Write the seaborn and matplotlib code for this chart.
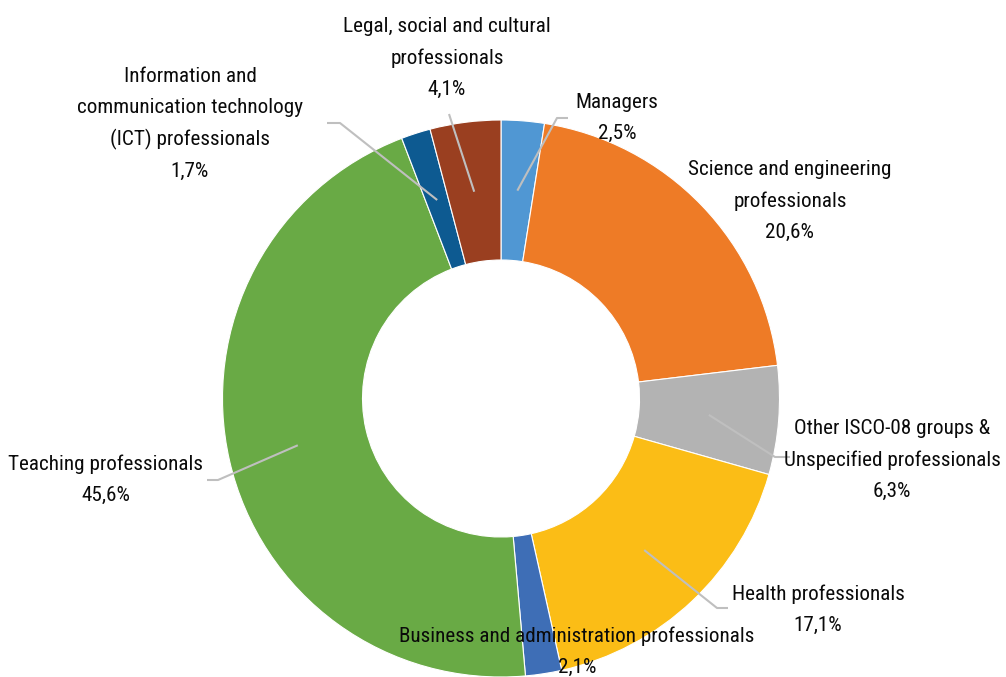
import numpy as np
import matplotlib
matplotlib.use("Agg")
import matplotlib.pyplot as plt
from matplotlib import font_manager
import seaborn as sns

# ---------------- data ----------------
categories = [
    "Managers",
    "Science and engineering\nprofessionals",
    "Other ISCO-08 groups &\nUnspecified professionals",
    "Health professionals",
    "Business and administration professionals",
    "Teaching professionals",
    "Information and\ncommunication technology\n(ICT) professionals",
    "Legal, social and cultural\nprofessionals",
]
shares = [2.5, 20.6, 6.3, 17.1, 2.1, 45.6, 1.7, 4.1]
colors = ["#5097D3", "#EE7B26", "#B3B3B3", "#FBBD16",
          "#3E6EB6", "#69AA45", "#0D5A91", "#9A3F20"]

# ---------------- layout (pixel coordinates, y from top) ----------------
W, H = 1006, 677
CX, CY = 501, 398.5
R_OUT, R_IN = 278.5, 138.5
label_pos = [(617, 118), (790, 201), (892, 460), (818, 610),
             (577, 652), (106, 480), (190, 124), (447, 58)]
# leader elbows / ends (None = no leader line)
leaders = [[(557, 118), (568, 118)], None, [(775, 457), (790, 457)],
           [(717, 608), (728, 608)], None, [(218, 480), (207, 480)],
           [(340, 123), (327, 123)], [(449, 114)]]

sns.set_theme(style="white")

entries = font_manager.fontManager.ttflist
names = {f.name for f in entries}
stretch = "normal"
if "Liberation Sans Narrow" in names:
    fam, fsize = "Liberation Sans Narrow", 15.5
elif "Roboto Condensed" in names:
    fam, fsize = "Roboto Condensed", 15.2
elif any(f.name == "DejaVu Sans" and str(f.stretch) in ("condensed", "semi-condensed", "587", "600")
         for f in entries):
    fam, fsize, stretch = "DejaVu Sans", 13.8, "condensed"
else:
    fam, fsize = "DejaVu Sans", 12.6
plt.rcParams["font.family"] = [fam, "DejaVu Sans"]

fig = plt.figure(figsize=(W / 100, H / 100), dpi=100)
ax = fig.add_axes([0, 0, 1, 1])

def Y(py):
    return H - py

pal = sns.color_palette(colors)
wedges, _ = ax.pie(shares, colors=pal, startangle=90, counterclock=False,
                   radius=R_OUT, center=(CX, Y(CY)),
                   wedgeprops=dict(width=R_OUT - R_IN, edgecolor="white", linewidth=0.8))
ax.set_xlim(0, W)
ax.set_ylim(0, H)
ax.set_aspect("equal")
ax.axis("off")

r_mid = (R_OUT + R_IN) / 2
for w, lab, val, pos, ld in zip(wedges, categories, shares, label_pos, leaders):
    text = f"{lab}\n{val:.1f}%".replace(".", ",")
    ax.text(pos[0], Y(pos[1]), text, ha="center", va="center", fontsize=fsize,
            fontstretch=stretch, color="#0A0A0A", linespacing=1.78, zorder=5)
    if ld is not None:
        ang = np.deg2rad((w.theta1 + w.theta2) / 2)
        ax0 = CX + r_mid * np.cos(ang)
        ay0 = Y(CY) + r_mid * np.sin(ang)
        xs = [ax0] + [p[0] for p in ld]
        ys = [ay0] + [Y(p[1]) for p in ld]
        ax.plot(xs, ys, color="#BFBFBF", lw=1.5, zorder=4, solid_capstyle="butt")

fig.savefig("out.png", dpi=100, facecolor="white")
